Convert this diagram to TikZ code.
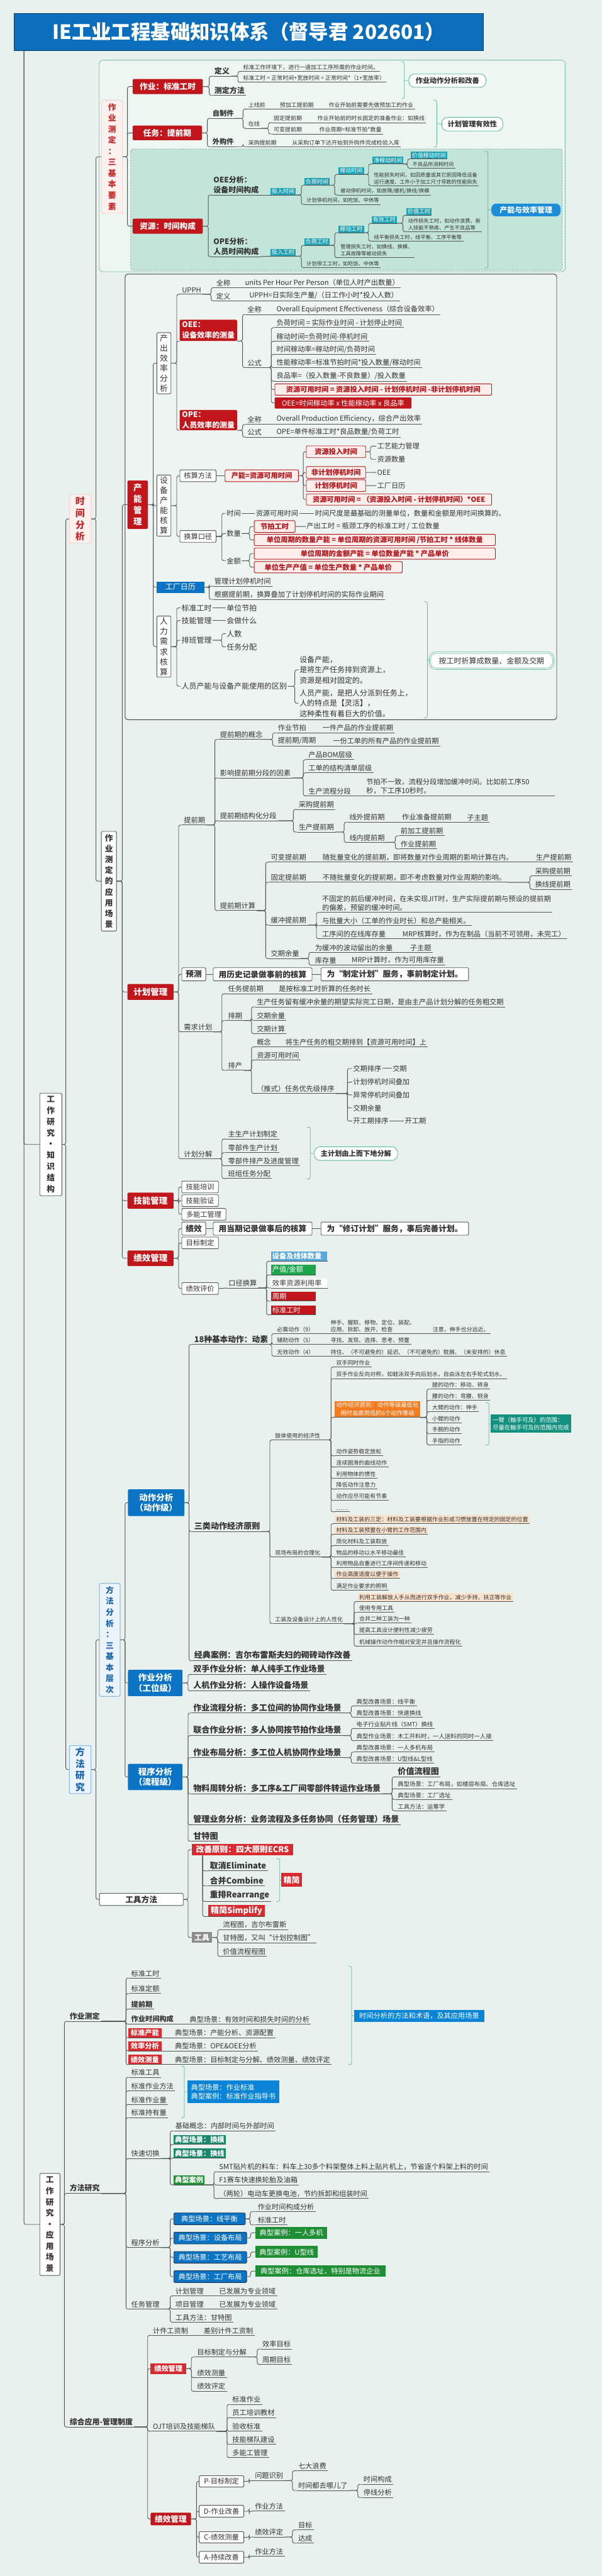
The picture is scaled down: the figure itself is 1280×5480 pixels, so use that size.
\documentclass[tikz,border=0pt]{standalone}
\usepackage{fontspec}
\setmainfont{Noto Sans CJK SC}
\usetikzlibrary{calc}
\definecolor{bg}{HTML}{E9F1EE}
\definecolor{txt}{HTML}{333333}
\definecolor{lc}{HTML}{555555}
\definecolor{dred}{HTML}{C0161C}
\definecolor{red2}{HTML}{D92B2F}
\definecolor{tealL}{HTML}{1FA2B4}
\definecolor{sec1}{HTML}{EEF6F1}
\definecolor{sec1b}{HTML}{7CC4A9}
\definecolor{dashF}{HTML}{C3E4D8}
\definecolor{dashB}{HTML}{6E9C8E}
\definecolor{capb}{HTML}{5DB79A}
\definecolor{blueS}{HTML}{1A8CD8}
\definecolor{blueS2}{HTML}{0A84D6}
\definecolor{pinkF}{HTML}{FDEDEB}
\definecolor{pinkB}{HTML}{B3151B}
\definecolor{blueB}{HTML}{0B74C4}
\definecolor{darkB}{HTML}{1E3550}
\definecolor{blueT}{HTML}{0A6EBD}
\definecolor{titleB}{HTML}{0D3C61}
\definecolor{orng}{HTML}{F47B20}
\definecolor{peach}{HTML}{FBE2CB}
\definecolor{grn}{HTML}{1F8E35}
\definecolor{grn2}{HTML}{1BA64B}
\definecolor{tealD}{HTML}{178A6D}
\definecolor{tealE}{HTML}{14907E}
\definecolor{lblue}{HTML}{57A9D9}
\definecolor{gry}{HTML}{8C8C8C}
\definecolor{mbT}{HTML}{1B64B0}
\definecolor{mbF}{HTML}{EAF4FA}
\definecolor{mbB}{HTML}{5A9BD0}
\definecolor{sjF}{HTML}{FCF1EF}
\definecolor{sjB}{HTML}{F1CBC6}
\definecolor{sjT}{HTML}{C62828}
\definecolor{bnd}{HTML}{EDF4F2}
\definecolor{bndB}{HTML}{444444}
\newcommand\fz[2]{\fontsize{#1}{#2}\selectfont}
\newcommand\bz[2]{\fontsize{#1}{#2}\selectfont\bfseries}
\newcommand\UL[5][]{\node[ut,#1] (#2) at (#3,#4) {#5};}
\newcommand\BX[7][]{\node[bx,#1,minimum width=#5pt,minimum height=#6pt] (#2) at (#3,#4) {#7};}
\newcommand\TX[5][]{\node[tx,#1] (#2) at (#3,#4) {#5};}
\newcommand\LK[3]{\draw[lnk] let \p1=(#1) in (#1) -- (#2pt,\y1) |- (#3);}
\newcommand\CH[2]{\draw[ulk] (#1) -- (#2);}
\newcommand\SB[4]{\draw[sumk] (#1,#2) .. controls ({#1+7},#2) .. ({#1+7},{#2+10}) -- ({#1+7},{#3-10}) .. controls ({#1+7},#3) .. (#1,#3); \draw[sumk] ({#1+7},{(#2+#3)/2}) -- (#4);}
\tikzset{
 lnk/.style={draw=lc, line width=1.2pt, rounded corners=4pt},
 ulk/.style={draw=lc, line width=1.3pt},
 sumk/.style={draw=capb, line width=1pt},
 ut/.style={anchor=south west, inner xsep=3pt, inner ysep=3pt, text=txt, font=\fz{15}{19}, align=left,
   append after command={(\tikzlastnode.south west) edge[ulk] (\tikzlastnode.south east)}},
 tx/.style={anchor=west, inner sep=2pt, text=txt, font=\fz{15}{19}, align=left},
 bx/.style={anchor=north west, inner sep=2pt, align=center, text=txt, font=\fz{15}{19}},
 sm/.style={font=\fz{12}{15}},
 xs/.style={font=\fz{11}{14.5}},
 s125/.style={font=\fz{12.5}{16}},
 b15/.style={font=\bz{15}{19}},
 b16/.style={font=\bz{16}{21}},
 b17/.style={font=\bz{17}{21}},
 b18/.style={font=\bz{17.5}{21}},
 tl/.style={fill=tealL, text=white, font=\fz{12}{14}, inner ysep=2pt},
 ob/.style={fill=orng, text=white, font=\fz{12.5}{17}, align=center},
 pc/.style={fill=peach},
 ru/.style={fill=red2, text=white, font=\bz{15}{19}, inner xsep=5pt},
 tu/.style={fill=tealD, text=white, font=\bz{15}{19}},
 gu/.style={fill=grn, text=white, font=\bz{15}{19}},
 cb/.style={text=white, font=\bz{15}{19}, align=left},
 ttl/.style={fill=blueT, draw=titleB, line width=1.5pt, text=white, font=\bz{42}{46}},
 wb/.style={fill=white, draw=lc, line width=1.2pt, rounded corners=2pt},
 wbb/.style={wb, font=\bz{17}{21}},
 rb/.style={fill=dred, text=white, font=\bz{17}{21}, rounded corners=2pt},
 rb2/.style={fill=red2, text=white, font=\bz{17}{21}},
 pb/.style={fill=pinkF, draw=pinkB, line width=1.2pt, text=pinkB, font=\bz{15}{19}, rounded corners=2pt},
 capsule/.style={fill=white, draw=capb, line width=1.2pt, rounded corners=12pt, font=\bz{15}{19}},
 capsuleb/.style={fill=white, draw=capb, double=white, double distance=2pt, line width=1pt, rounded corners=12pt, font=\fz{16}{20}},
 bs/.style={fill=blueS, text=white, rounded corners=10pt, font=\bz{16}{20}},
 bs2/.style={fill=blueS2, text=white, font=\fz{15}{19}},
 bl/.style={fill=blueB, text=white, font=\fz{16}{20}},
 bb2/.style={fill=blueB, draw=darkB, line width=1.2pt, text=white, font=\fz{15}{19}, rounded corners=2pt},
 gb/.style={fill=gry, text=white, font=\bz{16}{20}},
 gb2/.style={fill=grn, text=white, font=\fz{15}{19}},
 mb/.style={fill=blueB, text=white, font=\bz{18}{22}, rounded corners=2pt},
 teb/.style={fill=tealE, text=white, font=\fz{12.5}{17}, align=left},
 sjbox/.style={fill=sjF, draw=sjB, line width=1pt, text=sjT, font=\bz{20}{25}, rounded corners=3pt},
 ffbox/.style={fill=mbF, draw=mbB, line width=1pt, text=mbT, font=\bz{20}{25}, rounded corners=3pt},
 sec1box/.style={fill=sec1, draw=sec1b, line width=1.2pt, rounded corners=8pt},
 dashbox/.style={fill=dashF, draw=dashB, dashed, line width=1pt, rounded corners=5pt},
 bndbox/.style={fill=bnd, draw=bndB, line width=1.3pt, rounded corners=6pt},
}
\begin{document}
\begin{tikzpicture}[x=1pt,y=-1pt]
\fill[bg] (0,0) rectangle (1280,5480);
\useasboundingbox (0,0) rectangle (1280,5480);
\draw[sec1box] (211,128) rectangle (1202,578);
\draw[dashbox] (278,317) rectangle (1196,575);
\draw[bndbox] (266,583) rectangle (1184,1531);
% ---------- root ----------
\BX[ttl]{title}{29}{28}{998}{79}{IE工业工程基础知识体系（督导君 202601）}
\BX[wb,font=\bz{17}{24}]{kz}{84}{2325}{47}{218}{工\\作\\研\\究\\·\\知\\识\\结\\构}
\BX[wb,font=\bz{17}{23.5}]{yy}{84}{4623}{43}{217}{工\\作\\研\\究\\·\\应\\用\\场\\景}
\draw[lnk] ([xshift=22pt]title.south west) |- (kz.west);
\draw[lnk] ([xshift=22pt]title.south west) |- (yy.west);
\BX[sjbox]{sj}{147}{1052}{46}{103}{时\\间\\分\\析}
\BX[ffbox]{ff}{147}{3713}{46}{102}{方\\法\\研\\究}
\LK{kz.east}{140}{sj.west}
\LK{kz.east}{140}{ff.west}
\BX[sjbox,font=\bz{17}{23.5}]{zc}{216}{213}{44}{240}{作\\业\\测\\定\\：\\三\\基\\本\\要\\素}
\BX[wb,font=\bz{17}{23}]{zy}{215}{1768}{32}{212}{作\\业\\测\\定\\的\\应\\用\\场\\景}
\LK{sj.east}{204}{zc.west}
\LK{sj.east}{204}{zy.west}
% ---------- section 1 ----------
\BX[rb]{a1}{282}{168}{149}{32}{作业：标准工时}
\BX[rb]{a2}{282}{267}{147}{31}{任务：提前期}
\BX[rb]{a3}{282}{465}{149}{32}{资源：时间构成}
\LK{zc.east}{271}{a1.west}
\LK{zc.east}{271}{a2.west}
\LK{zc.east}{271}{a3.west}
\UL[b16]{b1}{453}{162}{定义}
\UL[b16]{b2}{453}{203}{测定方法}
\LK{a1.east}{445}{b1.south west}
\LK{a1.east}{445}{b2.south west}
\UL[sm]{c1}{514}{152}{标准工作环境下，进行一道加工工序所需的作业时间。}
\UL[sm]{c2}{514}{175}{标准工时 = 正常时间+宽放时间 = 正常时间*（1+宽放率）}
\LK{b1.south east}{506}{c1.south west}
\LK{b1.south east}{506}{c2.south west}
\BX[capsule]{s1}{869}{157}{164}{28}{作业动作分析和改善}
\SB{853}{132}{210}{s1.west}
\UL[b15]{d1}{449}{252}{自制件}
\UL[b15]{d2}{449}{312}{外购件}
\LK{a2.east}{441}{d1.south west}
\LK{a2.east}{441}{d2.south west}
\UL[sm]{e1}{525}{232}{上线前}
\UL[sm]{e1b}{592}{232}{预加工提前期}
\UL[sm]{e1c}{696}{232}{作业开始前需要先做预加工的作业}
\CH{e1.south east}{e1b.south west}
\CH{e1b.south east}{e1c.south west}
\UL[sm]{e2}{525}{273}{在线}
\LK{d1.south east}{517}{e1.south west}
\LK{d1.south east}{517}{e2.south west}
\UL[sm]{f1}{579}{261}{固定提前期}
\UL[sm]{f1b}{672}{261}{作业开始前的时长固定的准备作业：如换线}
\UL[sm]{f2}{579}{285}{可变提前期}
\UL[sm]{f2b}{676}{285}{作业周期=标准节拍*数量}
\LK{e2.south east}{571}{f1.south west}
\LK{e2.south east}{571}{f2.south west}
\CH{f1.south east}{f1b.south west}
\CH{f2.south east}{f2b.south west}
\UL[sm]{e3}{525}{312}{采购提前期}
\UL[sm]{e3b}{618}{312}{从采购订单下达开始到外购件完成检验入库}
\LK{d2.south east}{517}{e3.south west}
\CH{e3.south east}{e3b.south west}
\BX[capsule]{s2}{939}{249}{130}{29}{计划管理有效性}
\SB{922}{213}{313}{s2.west}
\UL[b16]{g1}{451}{415}{OEE分析：\\设备时间构成}
\UL[b16]{g2}{451}{546}{OPE分析：\\人员时间构成}
\LK{a3.east}{443}{g1.south west}
\LK{a3.east}{443}{g2.south west}
\UL[tl]{h1}{575}{415}{投入时间}
\CH{g1.south east}{h1.south west}
\UL[tl]{h2}{647}{394}{负荷时间}
\UL[xs]{h3}{649}{435}{计划停机时间，如吃饭、中休等}
\LK{h1.south east}{641}{h2.south west}
\LK{h1.south east}{641}{h3.south west}
\UL[tl]{h4}{720}{371}{稼动时间}
\UL[xs]{h5}{721}{415}{被动停机时间，如故障/缓机/换线/换模}
\LK{h2.south east}{712}{h4.south west}
\LK{h2.south east}{712}{h5.south west}
\UL[tl]{h6}{792}{349}{净稼动时间}
\UL[xs]{h7}{792}{395}{性能损失时间，如因质量或其它原因降低设备\\运行速度、工件小于加工尺寸导致的性能损失}
\LK{h4.south east}{784}{h6.south west}
\LK{h4.south east}{784}{h7.south west}
\UL[tl]{h8}{873}{338}{价值稼动时间}
\UL[xs]{h9}{874}{358}{不良品所消耗时间}
\LK{h6.south east}{867}{h8.south west}
\LK{h6.south east}{867}{h9.south west}
\UL[tl]{i1}{575}{545}{投入工时}
\CH{g2.south east}{i1.south west}
\UL[tl]{i2}{647}{522}{负荷工时}
\UL[xs]{i3}{649}{569}{计划停工工时，如吃饭、中休等}
\LK{i1.south east}{641}{i2.south west}
\LK{i1.south east}{641}{i3.south west}
\UL[tl]{i4}{720}{495}{稼动工时}
\UL[xs]{i5}{721}{548}{管理损失工时，如换线、换模、\\工具故障等被动损失}
\LK{i2.south east}{712}{i4.south west}
\LK{i2.south east}{712}{i5.south west}
\UL[tl]{i6}{790}{475}{有效工时}
\UL[xs]{i7}{792}{513}{线平衡损失工时，线平衡、工序平衡等}
\LK{i4.south east}{784}{i6.south west}
\LK{i4.south east}{784}{i7.south west}
\UL[tl]{i8}{864}{458}{价值工时}
\UL[xs]{i9}{865}{493}{动作损失工时，如动作浪费、新\\人技能不熟练、产生不良品等}
\LK{i6.south east}{857}{i8.south west}
\LK{i6.south east}{857}{i9.south west}
\BX[bs]{s3}{1045}{433}{147}{27}{产能与效率管理}
\SB{1031}{322}{570}{s3.west}
% ---------- 应用场景 (time) ----------
\BX[rb,font=\bz{18}{24}]{p1}{271}{1022}{43}{103}{产\\能\\管\\理}
\BX[rb,font=\bz{18}{22}]{p2}{271}{2093}{98}{34}{计划管理}
\BX[rb,font=\bz{18}{22}]{p3}{271}{2537}{98}{34}{技能管理}
\BX[rb,font=\bz{18}{22}]{p4}{271}{2660}{98}{33}{绩效管理}
\LK{zy.east}{260}{p1.west}
\LK{zy.east}{260}{p2.west}
\LK{zy.east}{260}{p3.west}
\LK{zy.east}{260}{p4.west}
\BX[wb,font=\fz{17}{21.5}]{q1}{333}{707}{30}{130}{产\\出\\效\\率\\分\\析}
\BX[wb,font=\fz{17}{21.5}]{q2}{333}{1010}{30}{130}{设\\备\\产\\能\\核\\算}
\BX[bl]{q3}{333}{1237}{101}{24}{工厂日历}
\BX[wb,font=\fz{17}{21.5}]{q4}{333}{1310}{30}{130}{人\\力\\需\\求\\核\\算}
\LK{p1.east}{326}{q1.west}
\LK{p1.east}{326}{q2.west}
\LK{p1.east}{326}{q3.west}
\LK{p1.east}{326}{q4.west}
\UL{r1}{384}{626}{UPPH}
\BX[rb,font=\bz{16}{22},align=left]{r2}{382}{680}{122}{45}{OEE：\\设备效率的测量}
\BX[rb,font=\bz{16}{22},align=left]{r3}{382}{872}{122}{43}{OPE：\\人员效率的测量}
\LK{q1.east}{376}{r1.south west}
\LK{q1.east}{376}{r2.south west}
\LK{q1.east}{376}{r3.south west}
\UL{r1a}{457}{612}{全称}
\UL{r1b}{518}{612}{units Per Hour Per Person（单位人时产出数量）}
\UL{r1c}{457}{640}{定义}
\UL{r1d}{527}{640}{UPPH=日实际生产量/（日工作小时*投入人数）}
\LK{r1.south east}{449}{r1a.south west}
\LK{r1.south east}{449}{r1c.south west}
\CH{r1a.south east}{r1b.south west}
\CH{r1c.south east}{r1d.south west}
\UL{r2a}{523}{669}{全称}
\UL{r2b}{585}{669}{Overall Equipment Effectiveness（综合设备效率）}
\CH{r2a.south east}{r2b.south west}
\UL{r2c}{523}{782}{公式}
\LK{r2.south east}{516}{r2a.south west}
\LK{r2.south east}{516}{r2c.south west}
\UL{r2d}{585}{697}{负荷时间 = 实际作业时间 - 计划停止时间}
\UL{r2e}{585}{726}{稼动时间=负荷时间-停机时间}
\UL{r2f}{585}{754}{时间稼动率=稼动时间/负荷时间}
\UL{r2g}{585}{782}{性能稼动率=标准节拍时间*投入数量/稼动时间}
\UL{r2h}{585}{811}{良品率=（投入数量-不良数量）/投入数量}
\BX[pb]{r2i}{584}{816}{461}{24}{资源可用时间 = 资源投入时间 - 计划停机时间 -非计划停机时间}
\BX[rb,font=\fz{15}{18}]{r2j}{584}{845}{291}{24}{OEE=时间稼动率 x 性能稼动率 x 良品率}
\LK{r2c.south east}{577}{r2d.south west}
\LK{r2c.south east}{577}{r2e.south west}
\LK{r2c.south east}{577}{r2f.south west}
\LK{r2c.south east}{577}{r2g.south west}
\LK{r2c.south east}{577}{r2h.south west}
\LK{r2c.south east}{577}{r2i.west}
\LK{r2c.south east}{577}{r2j.west}
\UL{r3a}{523}{903}{全称}
\UL{r3b}{585}{903}{Overall Production Efficiency，综合产出效率}
\UL{r3c}{523}{930}{公式}
\UL{r3d}{585}{930}{OPE=单件标准工时*良品数量/负荷工时}
\LK{r3.south east}{516}{r3a.south west}
\LK{r3.south east}{516}{r3c.south west}
\CH{r3a.south east}{r3b.south west}
\CH{r3c.south east}{r3d.south west}
\BX[wb]{t1}{382}{999}{77}{25}{核算方法}
\BX[wb]{t2}{382}{1128}{77}{25}{换算口径}
\LK{q2.east}{376}{t1.west}
\LK{q2.east}{376}{t2.west}
\BX[pb]{t3}{478}{999}{156}{25}{产能=资源可用时间}
\CH{t1.east}{t3.west}
\BX[pb]{t4}{651}{948}{126}{25}{资源投入时间}
\BX[pb]{t5}{651}{992}{126}{25}{非计划停机时间}
\BX[pb]{t6}{651}{1020}{126}{25}{计划停机时间}
\BX[pb]{t7}{651}{1050}{394}{24}{资源可用时间 = （资源投入时间 - 计划停机时间）*OEE}
\LK{t3.east}{645}{t4.west}
\LK{t3.east}{645}{t5.west}
\LK{t3.east}{645}{t6.west}
\LK{t3.east}{645}{t7.west}
\TX{t4a}{800}{949}{工艺能力管理}
\TX{t4b}{800}{977}{资源数量}
\LK{t4.east}{788}{t4a.west}
\LK{t4.east}{788}{t4b.west}
\TX{t5a}{800}{1005}{OEE}
\TX{t6a}{800}{1033}{工厂日历}
\CH{t5.east}{t5a.west}
\CH{t6.east}{t6a.west}
\TX{u1}{480}{1092}{时间}
\TX{u1b}{542}{1092}{资源可用时间}
\TX{u1c}{668}{1092}{时间尺度是最基础的测量单位，数量和金额是用时间换算的。}
\CH{u1.east}{u1b.west}
\CH{u1b.east}{u1c.west}
\TX{u2}{480}{1135}{数量}
\TX{u5}{480}{1193}{金额}
\LK{t2.east}{472}{u1.west}
\LK{t2.east}{472}{u2.west}
\LK{t2.east}{472}{u5.west}
\BX[pb]{u3}{540}{1107}{87}{25}{节拍工时}
\TX{u3b}{650}{1120}{产出工时 = 瓶颈工序的标准工时 / 工位数量}
\CH{u3.east}{u3b.west}
\BX[pb]{u4}{540}{1136}{513}{24}{单位周期的数量产能 = 单位周期的资源可用时间 /节拍工时 * 线体数量}
\LK{u2.east}{531}{u3.west}
\LK{u2.east}{531}{u4.west}
\BX[pb]{u6}{540}{1165}{513}{24}{单位周期的金额产能 = 单位数量产能 * 产品单价}
\BX[pb]{u7}{540}{1194}{315}{24}{单位生产产值 = 单位生产数量 * 产品单价}
\LK{u5.east}{531}{u6.west}
\LK{u5.east}{531}{u7.west}
\UL{q3a}{453}{1247}{管理计划停机时间}
\UL{q3b}{453}{1275}{根据提前期，换算叠加了计划停机时间的实际作业期间}
\LK{q3.east}{445}{q3a.south west}
\LK{q3.east}{445}{q3b.south west}
\TX[font=\fz{16}{20}]{v1}{384}{1293}{标准工时}
\TX[font=\fz{16}{20}]{v1b}{480}{1293}{单位节拍}
\CH{v1.east}{v1b.west}
\TX[font=\fz{16}{20}]{v2}{384}{1320}{技能管理}
\TX[font=\fz{16}{20}]{v2b}{480}{1320}{会做什么}
\CH{v2.east}{v2b.west}
\TX[font=\fz{16}{20}]{v3}{384}{1362}{排班管理}
\TX[font=\fz{16}{20}]{v3a}{480}{1348}{人数}
\TX[font=\fz{16}{20}]{v3b}{480}{1376}{任务分配}
\LK{v3.east}{472}{v3a.west}
\LK{v3.east}{472}{v3b.west}
\TX[font=\fz{16}{20}]{v4}{384}{1460}{人员产能与设备产能使用的区别}
\TX[font=\fz{16}{22}]{v4a}{635}{1425}{设备产能，\\是将生产任务排到资源上，\\资源是相对固定的。}
\TX[font=\fz{16}{22}]{v4b}{635}{1496}{人员产能，是把人分派到任务上，\\人的特点是【灵活】，\\这种柔性有着巨大的价值。}
\LK{v4.east}{627}{v4a.west}
\LK{v4.east}{627}{v4b.west}
\LK{q4.east}{376}{v1.west}
\LK{q4.east}{376}{v2.west}
\LK{q4.east}{376}{v3.west}
\LK{q4.east}{376}{v4.west}
\BX[capsuleb]{s4}{914}{1388}{262}{34}{按工时折算成数量、金额及交期}
\SB{902}{1280}{1527}{s4.west}
% ---------- 计划管理 ----------
\UL{w1}{388}{1755}{提前期}
\BX[wbb]{w2}{386}{2058}{51}{28}{预测}
\BX[wbb]{w2b}{453}{2058}{210}{28}{用历史记录做事前的核算}
\BX[wbb]{w2c}{682}{2058}{314}{28}{为“制定计划”服务，事前制定计划。}
\CH{w2.east}{w2b.west}
\CH{w2b.east}{w2c.west}
\UL{w3}{388}{2195}{需求计划}
\UL{w4}{388}{2465}{计划分解}
\LK{p2.east}{380}{w1.south west}
\LK{p2.east}{380}{w2.west}
\LK{p2.east}{380}{w3.south west}
\LK{p2.east}{380}{w4.south west}
\UL{x1}{465}{1573}{提前期的概念}
\UL{x2}{465}{1655}{影响提前期分段的因素}
\UL{x3}{465}{1746}{提前期结构化分段}
\UL{x4}{465}{1937}{提前期计算}
\LK{w1.south east}{457}{x1.south west}
\LK{w1.south east}{457}{x2.south west}
\LK{w1.south east}{457}{x3.south west}
\LK{w1.south east}{457}{x4.south west}
\UL{x1a}{588}{1559}{作业节拍}
\UL{x1b}{683}{1559}{一件产品的作业提前期}
\UL{x1c}{588}{1587}{提前期/周期}
\UL{x1d}{705}{1587}{一份工单的所有产品的作业提前期}
\LK{x1.south east}{580}{x1a.south west}
\LK{x1.south east}{580}{x1c.south west}
\CH{x1a.south east}{x1b.south west}
\CH{x1c.south east}{x1d.south west}
\UL{x2a}{653}{1616}{产品BOM层级}
\UL{x2b}{653}{1644}{工单的结构清单层级}
\UL{x2c}{653}{1693}{生产流程分段}
\UL[text width=398pt]{x2d}{776}{1693}{节拍不一致，流程分段增加缓冲时间。比如前工序50\\秒，下工序10秒时。}
\LK{x2.south east}{645}{x2a.south west}
\LK{x2.south east}{645}{x2b.south west}
\LK{x2.south east}{645}{x2c.south west}
\CH{x2c.south east}{x2d.south west}
\UL{x3a}{632}{1722}{采购提前期}
\UL{x3b}{632}{1770}{生产提前期}
\LK{x3.south east}{624}{x3a.south west}
\LK{x3.south east}{624}{x3b.south west}
\UL{x3c}{740}{1749}{线外提前期}
\UL{x3d}{852}{1749}{作业准备提前期}
\UL{x3e}{990}{1749}{子主题}
\CH{x3c.south east}{x3d.south west}
\CH{x3d.south east}{x3e.south west}
\UL{x3f}{740}{1792}{线内提前期}
\LK{x3b.south east}{732}{x3c.south west}
\LK{x3b.south east}{732}{x3f.south west}
\UL{x3g}{849}{1778}{前加工提前期}
\UL{x3h}{849}{1806}{作业提前期}
\LK{x3f.south east}{841}{x3g.south west}
\LK{x3f.south east}{841}{x3h.south west}
\UL{y4a}{573}{1834}{可变提前期}
\UL{y4b}{683}{1834}{随批量变化的提前期，即将数量对作业周期的影响计算在内。}
\UL{y4c}{1137}{1834}{生产提前期}
\CH{y4a.south east}{y4b.south west}
\CH{y4b.south east}{y4c.south west}
\UL{y4d}{573}{1877}{固定提前期}
\UL{y4e}{683}{1877}{不随批量变化的提前期，即不考虑数量对作业周期的影响。}
\CH{y4d.south east}{y4e.south west}
\UL{y4f}{1135}{1863}{采购提前期}
\UL{y4g}{1135}{1892}{换线提前期}
\LK{y4e.south east}{1127}{y4f.south west}
\LK{y4e.south east}{1127}{y4g.south west}
\UL{y4h}{573}{1968}{缓冲提前期}
\UL{y4i}{682}{1941}{不固定的前后缓冲时间，在未实现JIT时，生产实际提前期与预设的提前期\\的偏差，预留的缓冲时间。}
\UL{y4j}{682}{1969}{与批量大小（工单的作业时长）和总产能相关。}
\UL{y4k}{682}{1997}{工序间的在线库存量}
\UL{y4l}{853}{1997}{MRP核算时，作为在制品（当前不可领用，未完工）}
\CH{y4k.south east}{y4l.south west}
\LK{y4h.south east}{673}{y4i.south west}
\LK{y4h.south east}{673}{y4j.south west}
\LK{y4h.south east}{673}{y4k.south west}
\UL{y4m}{573}{2039}{交期余量}
\UL{y4n}{667}{2026}{为缓冲的波动留出的余量}
\UL{y4o}{869}{2026}{子主题}
\UL{y4p}{667}{2053}{库存量}
\UL{y4q}{745}{2053}{MRP计算时，作为可用库存量}
\CH{y4n.south east}{y4o.south west}
\CH{y4p.south east}{y4q.south west}
\LK{y4m.south east}{657}{y4n.south west}
\LK{y4m.south east}{657}{y4p.south west}
\LK{x4.south east}{565}{y4a.south west}
\LK{x4.south east}{565}{y4d.south west}
\LK{x4.south east}{565}{y4h.south west}
\LK{x4.south east}{565}{y4m.south west}
\UL{z1}{482}{2114}{任务提前期}
\UL{z1b}{590}{2114}{是按标准工时折算的任务时长}
\CH{z1.south east}{z1b.south west}
\UL{z2}{482}{2171}{排期}
\UL{z2a}{543}{2142}{生产任务留有缓冲余量的期望实际完工日期，是由主产品计划分解的任务粗交期}
\UL{z2b}{543}{2171}{交期余量}
\UL{z2c}{543}{2199}{交期计算}
\LK{z2.south east}{535}{z2a.south west}
\LK{z2.south east}{535}{z2b.south west}
\LK{z2.south east}{535}{z2c.south west}
\UL{z3}{482}{2277}{排产}
\UL{z3a}{543}{2227}{概念}
\UL{z3b}{604}{2227}{将生产任务的粗交期排到【资源可用时间】上}
\CH{z3a.south east}{z3b.south west}
\UL{z3c}{543}{2255}{资源可用时间}
\UL{z3d}{543}{2326}{（推式）任务优先级排序}
\LK{z3.south east}{535}{z3a.south west}
\LK{z3.south east}{535}{z3c.south west}
\LK{z3.south east}{535}{z3d.south west}
\LK{w3.south east}{472}{z1.south west}
\LK{w3.south east}{472}{z2.south west}
\LK{w3.south east}{472}{z3.south west}
\TX{z4a}{749}{2273}{交期排序}
\TX{z4b}{833}{2273}{交期}
\CH{z4a.east}{z4b.west}
\TX{z4c}{749}{2302}{计划停机时间叠加}
\TX{z4d}{749}{2329}{异常停机时间叠加}
\TX{z4e}{749}{2357}{交期余量}
\TX{z4f}{749}{2385}{开工期排序}
\TX{z4g}{859}{2385}{开工期}
\CH{z4f.east}{z4g.west}
\LK{z3d.south east}{739}{z4a.west}
\LK{z3d.south east}{739}{z4c.west}
\LK{z3d.south east}{739}{z4d.west}
\LK{z3d.south east}{739}{z4e.west}
\LK{z3d.south east}{739}{z4f.west}
\UL{z5a}{482}{2423}{主生产计划制定}
\UL{z5b}{482}{2452}{零部件生产计划}
\UL{z5c}{482}{2480}{零部件排产及进度管理}
\UL{z5d}{482}{2507}{班组任务分配}
\LK{w4.south east}{472}{z5a.south west}
\LK{w4.south east}{472}{z5b.south west}
\LK{w4.south east}{472}{z5c.south west}
\LK{w4.south east}{472}{z5d.south west}
\BX[capsule]{s5}{668}{2439}{177}{29}{主计划由上而下地分解}
\SB{653}{2398}{2508}{s5.west}
% ---------- 技能 / 绩效 ----------
\BX[wb]{pp1}{386}{2512}{78}{25}{技能培训}
\BX[wb]{pp2}{386}{2541}{78}{25}{技能验证}
\BX[wb]{pp3}{386}{2570}{94}{25}{多能工管理}
\LK{p3.east}{380}{pp1.west}
\LK{p3.east}{380}{pp2.west}
\LK{p3.east}{380}{pp3.west}
\BX[wbb]{pq1}{386}{2599}{51}{28}{绩效}
\BX[wbb]{pq1b}{453}{2599}{210}{28}{用当期记录做事后的核算}
\BX[wbb]{pq1c}{682}{2599}{314}{28}{为“修订计划”服务，事后完善计划。}
\CH{pq1.east}{pq1b.west}
\CH{pq1b.east}{pq1c.west}
\BX[wb]{pq2}{386}{2631}{78}{25}{目标制定}
\BX[wb]{pq3}{386}{2728}{78}{25}{绩效评价}
\UL{pq3b}{483}{2740}{口径换算}
\CH{pq3.east}{pq3b.south west}
\LK{p4.east}{380}{pq1.west}
\LK{p4.east}{380}{pq2.west}
\LK{p4.east}{380}{pq3.west}
\UL[cb,fill=lblue,text width=114pt]{pr1}{576}{2683}{设备及线体数量}
\UL[cb,fill=grn2,text width=89pt,font=\fz{15}{19}]{pr2}{576}{2712}{产值/金额}
\UL[fill=white,text width=114pt]{pr3}{576}{2740}{效率资源利用率}
\UL[cb,fill=dred,text width=89pt,font=\fz{15}{19}]{pr4}{576}{2768}{周期}
\UL[cb,fill=dred,text width=89pt,font=\fz{15}{19}]{pr5}{576}{2797}{标准工时}
\LK{pq3b.south east}{567}{pr1.south west}
\LK{pq3b.south east}{567}{pr2.south west}
\LK{pq3b.south east}{567}{pr3.south west}
\LK{pq3b.south east}{567}{pr4.south west}
\LK{pq3b.south east}{567}{pr5.south west}
% ---------- 方法研究 ----------
\BX[ffbox,font=\bz{17}{23.5}]{fa}{211}{3368}{44}{240}{方\\法\\分\\析\\：\\三\\基\\本\\层\\次}
\BX[wbb]{gj}{211}{4027}{178}{26}{工具方法}
\LK{ff.east}{204}{fa.west}
\LK{ff.east}{204}{gj.west}
\BX[mb]{m1}{272}{3168}{120}{57}{动作分析\\（动作级）}
\BX[mb]{m2}{272}{3552}{116}{56}{作业分析\\（工位级）}
\BX[mb]{m3}{272}{3752}{116}{56}{程序分析\\（流程级）}
\LK{fa.east}{266}{m1.west}
\LK{fa.east}{266}{m2.west}
\LK{fa.east}{266}{m3.west}
\UL[b17]{n1}{410}{2860}{18种基本动作：动素}
\UL[b18]{n2}{410}{3258}{三类动作经济原则}
\UL[b18]{n3}{410}{3533}{经典案例：吉尔布雷斯夫妇的砌砖动作改善}
\LK{m1.east}{402}{n1.south west}
\LK{m1.east}{402}{n2.south west}
\LK{m1.east}{402}{n3.south west}
\UL[sm]{n1a}{586}{2837}{必需动作（9）}
\UL[sm]{n1b}{700}{2837}{伸手、握取、移物、定位、装配、\\应用、拆卸、放开、检查}
\UL[sm]{n1c}{917}{2837}{注意，伸手也分远近。}
\UL[sm]{n1d}{586}{2860}{辅助动作（5）}
\UL[sm]{n1e}{700}{2860}{寻找、发现、选择、思考、预置}
\UL[sm]{n1f}{586}{2885}{无效动作（4）}
\UL[sm]{n1g}{700}{2885}{持住、（不可避免的）延迟、（不可避免的）耽搁、（未安排的）休息}
\CH{n1a.south east}{n1b.south west}
\CH{n1b.south east}{n1c.south west}
\CH{n1d.south east}{n1e.south west}
\CH{n1f.south east}{n1g.south west}
\LK{n1.south east}{578}{n1a.south west}
\LK{n1.south east}{578}{n1d.south west}
\LK{n1.south east}{578}{n1f.south west}
\UL[sm]{o1}{582}{3063}{肢体使用的经济性}
\UL[sm]{o2}{582}{3312}{现场布局的合理化}
\UL[sm]{o3}{582}{3454}{工装及设备设计上的人性化}
\LK{n2.south east}{574}{o1.south west}
\LK{n2.south east}{574}{o2.south west}
\LK{n2.south east}{574}{o3.south west}
\UL[sm]{o1a}{712}{2908}{双手同时作业}
\UL[sm]{o1b}{712}{2933}{双手作业反向对称，如蛙泳双手向后划水，自由泳左右手轮式划水。}
\UL[ob]{o1c}{712}{3015}{动作经济原则：动作等级最低化\\用时由高到低的6个动作等级}
\UL[sm]{o1d}{712}{3097}{动作姿势稳定放松}
\UL[sm]{o1e}{712}{3121}{连续圆滑的曲线动作}
\UL[sm]{o1f}{712}{3145}{利用物体的惯性}
\UL[sm]{o1g}{712}{3168}{降低动作注意力}
\UL[sm]{o1h}{712}{3192}{动作应尽可能有节奏}
\UL[sm]{o1i}{712}{3216}{……}
\LK{o1.south east}{704}{o1a.south west}
\LK{o1.south east}{704}{o1b.south west}
\LK{o1.south east}{704}{o1c.south west}
\LK{o1.south east}{704}{o1d.south west}
\LK{o1.south east}{704}{o1e.south west}
\LK{o1.south east}{704}{o1f.south west}
\LK{o1.south east}{704}{o1g.south west}
\LK{o1.south east}{704}{o1h.south west}
\LK{o1.south east}{704}{o1i.south west}
\UL[sm]{o2a}{916}{2955}{腿的动作：移动、转身}
\UL[sm]{o2b}{916}{2979}{腰的动作：弯腰、侧身}
\UL[sm]{o2c}{916}{3003}{大臂的动作：伸手}
\UL[sm]{o2d}{916}{3027}{小臂的动作}
\UL[sm]{o2e}{916}{3050}{手腕的动作}
\UL[sm]{o2f}{916}{3074}{手指的动作}
\LK{o1c.south east}{908}{o2a.south west}
\LK{o1c.south east}{908}{o2b.south west}
\LK{o1c.south east}{908}{o2c.south west}
\LK{o1c.south east}{908}{o2d.south west}
\LK{o1c.south east}{908}{o2e.south west}
\LK{o1c.south east}{908}{o2f.south west}
\BX[teb]{s6}{1043}{3009}{172}{39}{一臂（触手可及）的范围：\\尽量在触手可及的范围内完成}
\SB{1033}{2984}{3074}{s6.west}
\UL[sm,pc]{o3a}{712}{3241}{材料及工装的三定：材料及工装要根据作业形成习惯放置在特定的固定的位置}
\UL[sm,pc]{o3b}{712}{3264}{材料及工装预置在小臂的工作范围内}
\UL[sm]{o3c}{712}{3288}{简化材料及工装取放}
\UL[sm]{o3d}{712}{3312}{物品的移动以水平移动最佳}
\UL[sm]{o3e}{712}{3335}{利用物品自重进行工序间传递和移动}
\UL[sm,pc]{o3f}{712}{3358}{作业高度适度以便于操作}
\UL[sm]{o3g}{712}{3383}{满足作业要求的照明}
\LK{o2.south east}{704}{o3a.south west}
\LK{o2.south east}{704}{o3b.south west}
\LK{o2.south east}{704}{o3c.south west}
\LK{o2.south east}{704}{o3d.south west}
\LK{o2.south east}{704}{o3e.south west}
\LK{o2.south east}{704}{o3f.south west}
\LK{o2.south east}{704}{o3g.south west}
\UL[sm,pc]{o4a}{761}{3407}{利用工装解放人手从而进行双手作业，减少手持、扶正等作业}
\UL[sm]{o4b}{761}{3430}{使用专用工具}
\UL[sm]{o4c}{761}{3453}{合并二种工装为一种}
\UL[sm]{o4d}{761}{3477}{提高工具设计便利性减少疲劳}
\UL[sm]{o4e}{761}{3502}{机械操作动作作相对安定并且操作流程化}
\LK{o3.south east}{753}{o4a.south west}
\LK{o3.south east}{753}{o4b.south west}
\LK{o3.south east}{753}{o4c.south west}
\LK{o3.south east}{753}{o4d.south west}
\LK{o3.south east}{753}{o4e.south west}
\UL[b18]{k0a}{408}{3562}{双手作业分析：单人纯手工作业场景}
\UL[b18]{k0b}{408}{3597}{人机作业分析：人操作设备场景}
\LK{m2.east}{400}{k0a.south west}
\LK{m2.east}{400}{k0b.south west}
\UL[b18]{k1}{408}{3644}{作业流程分析：多工位间的协同作业场景}
\UL[s125]{k1a}{755}{3629}{典型改善场景：线平衡}
\UL[s125]{k1b}{755}{3653}{典型改善场景：快速换线}
\LK{k1.south east}{747}{k1a.south west}
\LK{k1.south east}{747}{k1b.south west}
\UL[b18]{k2}{408}{3692}{联合作业分析：多人协同按节拍作业场景}
\UL[s125]{k2a}{755}{3677}{电子行业贴片线（SMT）换线}
\UL[s125]{k2b}{755}{3703}{典型作业场景：木工开料时，一人送料的同时一人接}
\LK{k2.south east}{747}{k2a.south west}
\LK{k2.south east}{747}{k2b.south west}
\UL[b18]{k3}{408}{3739}{作业布局分析：多工位人机协同作业场景}
\UL[s125]{k3a}{755}{3727}{典型改善场景：一人多机布局}
\UL[s125]{k3b}{755}{3751}{典型改善场景：U型线\&L型线}
\LK{k3.south east}{747}{k3a.south west}
\LK{k3.south east}{747}{k3b.south west}
\UL[b18]{k4}{408}{3816}{物料周转分析：多工序\&工厂间零部件转运作业场景}
\UL[b18]{k4a}{843}{3780}{价值流程图}
\UL[s125]{k4b}{843}{3805}{典型场景：工厂布局，如楼层布局、仓库选址}
\UL[s125]{k4c}{843}{3828}{典型场景：工厂选址}
\UL[s125]{k4d}{843}{3852}{工具方法：运筹学}
\LK{k4.south east}{834}{k4a.south west}
\LK{k4.south east}{834}{k4b.south west}
\LK{k4.south east}{834}{k4c.south west}
\LK{k4.south east}{834}{k4d.south west}
\UL[b18]{k5}{408}{3882}{管理业务分析：业务流程及多任务协同（任务管理）场景}
\UL[b18]{k6}{408}{3917}{甘特图}
\LK{m3.east}{400}{k1.south west}
\LK{m3.east}{400}{k2.south west}
\LK{m3.east}{400}{k3.south west}
\LK{m3.east}{400}{k4.south west}
\LK{m3.east}{400}{k5.south west}
\LK{m3.east}{400}{k6.south west}
\BX[rb2]{l1}{408}{3922}{215}{25}{改善原则：四大原则ECRS}
\BX[gb]{l2}{408}{4110}{43}{23}{工具}
\LK{gj.east}{400}{l1.west}
\LK{gj.east}{400}{l2.west}
\UL[b18]{l1a}{443}{3980}{取消Eliminate}
\UL[b18]{l1b}{443}{4012}{合并Combine}
\UL[b18]{l1c}{443}{4045}{重排Rearrange}
\UL[ru,font=\bz{17.5}{21}]{l1d}{443}{4077}{精简Simplify}
\draw[lnk] ([xshift=23pt]l1.south west) |- (l1a.south west);
\draw[lnk] ([xshift=23pt]l1.south west) |- (l1b.south west);
\draw[lnk] ([xshift=23pt]l1.south west) |- (l1c.south west);
\draw[lnk] ([xshift=23pt]l1.south west) |- (l1d.south west);
\BX[rb2]{s7}{598}{3984}{44}{30}{精简}
\SB{588}{3954}{4045}{s7.west}
\UL{l2a}{471}{4105}{流程图，吉尔布雷斯}
\UL{l2b}{471}{4133}{甘特图，又叫“计划控制图”}
\UL{l2c}{471}{4162}{价值流程程图}
\LK{l2.east}{463}{l2a.south west}
\LK{l2.east}{463}{l2b.south west}
\LK{l2.east}{463}{l2c.south west}
% ---------- 应用场景 ----------
\UL[b16]{y1}{145}{4300}{作业测定}
\UL[b16]{y2}{145}{4666}{方法研究}
\UL[b16]{y3}{145}{5163}{综合应用-管理制度}
\LK{yy.east}{137}{y1.south west}
\LK{yy.east}{137}{y2.south west}
\LK{yy.east}{137}{y3.south west}
\UL{ya}{276}{4208}{标准工时}
\UL{yb}{276}{4241}{标准定额}
\UL[b15]{yc}{276}{4274}{提前期}
\UL[b15]{yd}{276}{4306}{作业时间构成}
\UL{yd2}{400}{4306}{典型场景：有效时间和损失时间的分析}
\CH{yd.south east}{yd2.south west}
\UL[ru]{ye}{273}{4335}{标准产能}
\UL{ye2}{369}{4335}{典型场景：产能分析、资源配置}
\CH{ye.south east}{ye2.south west}
\UL[ru]{yf}{273}{4363}{效率分析}
\UL{yf2}{369}{4363}{典型场景：OPE\&OEE分析}
\CH{yf.south east}{yf2.south west}
\UL[ru]{yg}{273}{4392}{绩效测量}
\UL{yg2}{369}{4392}{典型场景：目标制定与分解、绩效测量、绩效评定}
\CH{yg.south east}{yg2.south west}
\LK{y1.south east}{268}{ya.south west}
\LK{y1.south east}{268}{yb.south west}
\LK{y1.south east}{268}{yc.south west}
\LK{y1.south east}{268}{yd.south west}
\LK{y1.south east}{268}{ye.south west}
\LK{y1.south east}{268}{yf.south west}
\LK{y1.south east}{268}{yg.south west}
\BX[bs2]{s8}{753}{4275}{277}{26}{时间分析的方法和术语，及其应用场景}
\SB{741}{4183}{4392}{s8.west}
\UL{yh}{276}{4419}{标准工具}
\UL{yi}{276}{4448}{标准作业方法}
\UL{yj}{276}{4477}{标准作业量}
\UL{yk}{276}{4505}{标准持有量}
\BX[bs2,align=left]{s9}{398}{4426}{196}{47}{典型场景：作业标准\\典型案例：标准作业指导书}
\SB{385}{4395}{4505}{s9.west}
\UL{yl}{276}{4592}{快速切换}
\UL{yl1}{370}{4533}{基础概念：内部时间与外部时间}
\UL[tu]{yl2}{369}{4562}{典型场景：换模}
\UL[tu]{yl3}{369}{4591}{典型场景：换线}
\UL[gu]{yl4}{369}{4648}{典型案例}
\LK{yl.south east}{362}{yl1.south west}
\LK{yl.south east}{362}{yl2.south west}
\LK{yl.south east}{362}{yl3.south west}
\LK{yl.south east}{362}{yl4.south west}
\UL{yl5}{463}{4620}{SMT贴片机的料车：料车上30多个料架整体上料上贴片机上，节省逐个料架上料的时间}
\UL{yl6}{463}{4648}{F1赛车快速换轮胎及油箱}
\UL{yl7}{463}{4677}{（两轮）电动车更换电池，节约拆卸和组装时间}
\LK{yl4.south east}{455}{yl5.south west}
\LK{yl4.south east}{455}{yl6.south west}
\LK{yl4.south east}{455}{yl7.south west}
\UL{ym}{276}{4781}{程序分析}
\BX[bb2]{ym1}{369}{4707}{152}{25}{典型场景：线平衡}
\BX[bb2]{ym2}{369}{4748}{155}{25}{典型场景：设备布局}
\BX[bb2]{ym3}{369}{4789}{155}{25}{典型场景：工艺布局}
\BX[bb2]{ym4}{369}{4830}{155}{25}{典型场景：工厂布局}
\LK{ym.south east}{362}{ym1.west}
\LK{ym.south east}{362}{ym2.west}
\LK{ym.south east}{362}{ym3.west}
\LK{ym.south east}{362}{ym4.west}
\UL{ym1a}{545}{4705}{作业时间构成分析}
\UL{ym1b}{545}{4733}{标准工时}
\LK{ym1.east}{532}{ym1a.south west}
\LK{ym1.east}{532}{ym1b.south west}
\BX[gb2]{ym2a}{543}{4737}{153}{25}{典型案例：一人多机}
\BX[gb2]{ym3a}{543}{4778}{133}{25}{典型案例：U型线}
\BX[gb2]{ym4a}{543}{4819}{277}{24}{典型案例：仓库选址，特别是物流企业}
\LK{ym2.east}{533}{ym2a.west}
\LK{ym3.east}{533}{ym3a.west}
\LK{ym4.east}{533}{ym4a.west}
\UL{yn}{276}{4912}{任务管理}
\UL{yn1}{370}{4884}{计划管理}
\UL{yn1b}{463}{4884}{已发展为专业领域}
\UL{yn2}{370}{4912}{项目管理}
\UL{yn2b}{463}{4912}{已发展为专业领域}
\UL{yn3}{370}{4940}{工具方法：甘特图}
\CH{yn1.south east}{yn1b.south west}
\CH{yn2.south east}{yn2b.south west}
\LK{yn.south east}{362}{yn1.south west}
\LK{yn.south east}{362}{yn2.south west}
\LK{yn.south east}{362}{yn3.south west}
\LK{y2.south east}{268}{yh.south west}
\LK{y2.south east}{268}{yi.south west}
\LK{y2.south east}{268}{yj.south west}
\LK{y2.south east}{268}{yk.south west}
\LK{y2.south east}{268}{yl.south west}
\LK{y2.south east}{268}{ym.south west}
\LK{y2.south east}{268}{yn.south west}
\UL{yo1}{322}{4968}{计件工资制}
\UL{yo1b}{430}{4968}{差别计件工资制}
\CH{yo1.south east}{yo1b.south west}
\BX[rb2,font=\bz{15}{19}]{yo2}{320}{5027}{76}{23}{绩效管理}
\UL{yo2a}{416}{5014}{目标制定与分解}
\UL{yo2b}{555}{4997}{效率目标}
\UL{yo2c}{555}{5030}{周期目标}
\LK{yo2a.south east}{547}{yo2b.south west}
\LK{yo2a.south east}{547}{yo2c.south west}
\UL{yo2d}{416}{5058}{绩效测量}
\UL{yo2e}{416}{5087}{绩效评定}
\LK{yo2.east}{407}{yo2a.south west}
\LK{yo2.east}{407}{yo2d.south west}
\LK{yo2.east}{407}{yo2e.south west}
\UL{yo3}{322}{5172}{OJT培训及技能梯队}
\UL{yo3a}{491}{5115}{标准作业}
\UL{yo3b}{491}{5143}{员工培训教材}
\UL{yo3c}{491}{5172}{验收标准}
\UL{yo3d}{491}{5200}{技能梯队建设}
\UL{yo3e}{491}{5228}{多能工管理}
\LK{yo3.south east}{483}{yo3a.south west}
\LK{yo3.south east}{483}{yo3b.south west}
\LK{yo3.south east}{483}{yo3c.south west}
\LK{yo3.south east}{483}{yo3d.south west}
\LK{yo3.south east}{483}{yo3e.south west}
\BX[rb,font=\bz{17}{21}]{yo4}{320}{5345}{86}{27}{绩效管理}
\BX[wb]{pdP}{423}{5266}{95}{24}{P-目标制定}
\BX[wb]{pdD}{423}{5329}{95}{25}{D-作业改善}
\BX[wb]{pdC}{423}{5385}{95}{24}{C-绩效测量}
\BX[wb]{pdA}{423}{5427}{95}{25}{A-持续改善}
\LK{yo4.east}{418}{pdP.west}
\LK{yo4.east}{418}{pdD.west}
\LK{yo4.east}{418}{pdC.west}
\LK{yo4.east}{418}{pdA.west}
\UL{yq1}{539}{5277}{问题识别}
\LK{pdP.east}{530}{yq1.south west}
\UL{yq2}{631}{5256}{七大浪费}
\UL{yq3}{631}{5298}{时间都去哪儿了}
\LK{yq1.south east}{622}{yq2.south west}
\LK{yq1.south east}{622}{yq3.south west}
\UL{yq4}{770}{5285}{时间构成}
\UL{yq5}{770}{5313}{停线分析}
\LK{yq3.south east}{761}{yq4.south west}
\LK{yq3.south east}{761}{yq5.south west}
\UL{yq6}{539}{5342}{作业方法}
\LK{pdD.east}{530}{yq6.south west}
\UL{yq7}{539}{5397}{绩效评定}
\LK{pdC.east}{530}{yq7.south west}
\UL{yq8}{631}{5382}{目标}
\UL{yq9}{631}{5410}{达成}
\LK{yq7.south east}{622}{yq8.south west}
\LK{yq7.south east}{622}{yq9.south west}
\UL{yq10}{539}{5438}{作业方法}
\LK{pdA.east}{530}{yq10.south west}
\LK{y3.south east}{314}{yo1.south west}
\LK{y3.south east}{314}{yo2.west}
\LK{y3.south east}{314}{yo3.south west}
\LK{y3.south east}{314}{yo4.west}
\end{tikzpicture}
\end{document}
